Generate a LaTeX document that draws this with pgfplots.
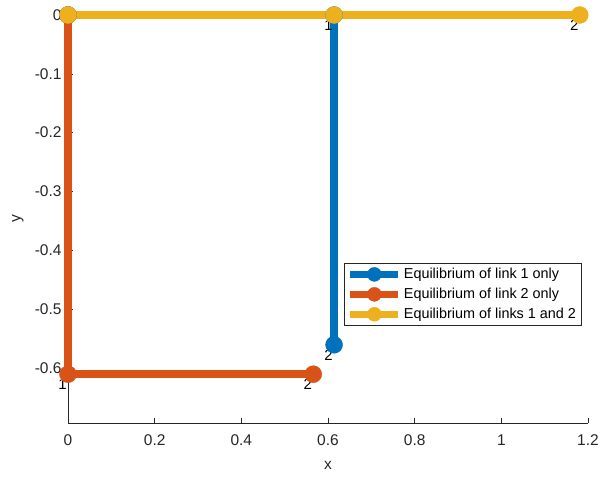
\documentclass[border=0pt]{standalone}
\usepackage{fontspec}
\setmainfont{Liberation Sans}
\usepackage{pgfplots}
\pgfplotsset{compat=1.18}
\definecolor{mblue}{rgb}{0,0.447,0.741}
\definecolor{morange}{rgb}{0.85,0.325,0.098}
\definecolor{myellow}{rgb}{0.929,0.694,0.125}
\definecolor{axgray}{rgb}{0.15,0.15,0.15}
\begin{document}
\begin{tikzpicture}
\begin{axis}[
  scale only axis, width=520pt, height=408pt,
  xmin=0, xmax=1.2, ymin=-0.694, ymax=0,
  axis lines*=left,
  axis line style={axgray, line width=0.5pt},
  clip=false,
  tick align=inside,
  major tick length=5pt,
  tick style={axgray, line width=0.5pt},
  xtick={0,0.2,0.4,0.6,0.8,1,1.2},
  xticklabels={0,0.2,0.4,0.6,0.8,1,1.2},
  ytick={-0.6,-0.5,-0.4,-0.3,-0.2,-0.1,0},
  yticklabels={-0.6,-0.5,-0.4,-0.3,-0.2,-0.1,0},
  ticklabel style={font=\fontsize{15.5}{18}\selectfont, text=axgray},
  xticklabel style={yshift=-8pt},
  yticklabel style={xshift=-3pt},
  xlabel={x}, ylabel={y},
  label style={font=\fontsize{15.5}{18}\selectfont, text=axgray},
  xlabel style={at={(axis description cs:0.5,0)}, anchor=center, yshift=-42pt},
  ylabel style={at={(axis description cs:0,0.5)}, anchor=center, yshift=50pt},
  legend style={at={(axis description cs:0.987,0.239)}, anchor=south east,
    font=\fontsize{14.4}{16}\selectfont, draw=axgray, line width=0.5pt,
    inner sep=3pt, row sep=4pt},
  legend cell align=left,
  legend image code/.code={%
    \draw[mark repeat=2,mark phase=2,#1, line width=7pt, mark size=7pt] plot coordinates {(0pt,0pt) (24pt,0pt) (48pt,0pt)};},
  every axis plot/.append style={line width=8.5pt, mark=*, mark size=8.5pt},
]
\addplot[color=mblue, mark options={solid, fill=mblue, line width=0.4pt}] coordinates {(0,0) (0.614,0) (0.614,-0.561)};
\addlegendentry{Equilibrium of link 1 only}
\addplot[color=morange, mark options={solid, fill=morange, line width=0.4pt}] coordinates {(0,0) (0,-0.611) (0.566,-0.611)};
\addlegendentry{Equilibrium of link 2 only}
\addplot[color=myellow, mark options={solid, fill=myellow, line width=0.4pt}] coordinates {(0,0) (0.614,0) (1.181,0)};
\addlegendentry{Equilibrium of links 1 and 2}
\node[font=\fontsize{15}{17}\selectfont, xshift=-5.5pt, yshift=-10.5pt] at (axis cs:0.614,0) {1};
\node[font=\fontsize{15}{17}\selectfont, xshift=-5.5pt, yshift=-10.5pt] at (axis cs:1.181,0) {2};
\node[font=\fontsize{15}{17}\selectfont, xshift=-5.5pt, yshift=-10.5pt] at (axis cs:0.614,-0.561) {2};
\node[font=\fontsize{15}{17}\selectfont, xshift=-5.5pt, yshift=-10.5pt] at (axis cs:0,-0.611) {1};
\node[font=\fontsize{15}{17}\selectfont, xshift=-5.5pt, yshift=-10.5pt] at (axis cs:0.566,-0.611) {2};
\end{axis}
\pgfresetboundingbox
\path ([xshift=-68pt,yshift=-54pt]current axis.south west) rectangle ([xshift=25pt,yshift=15pt]current axis.north east);
\end{tikzpicture}
\end{document}
